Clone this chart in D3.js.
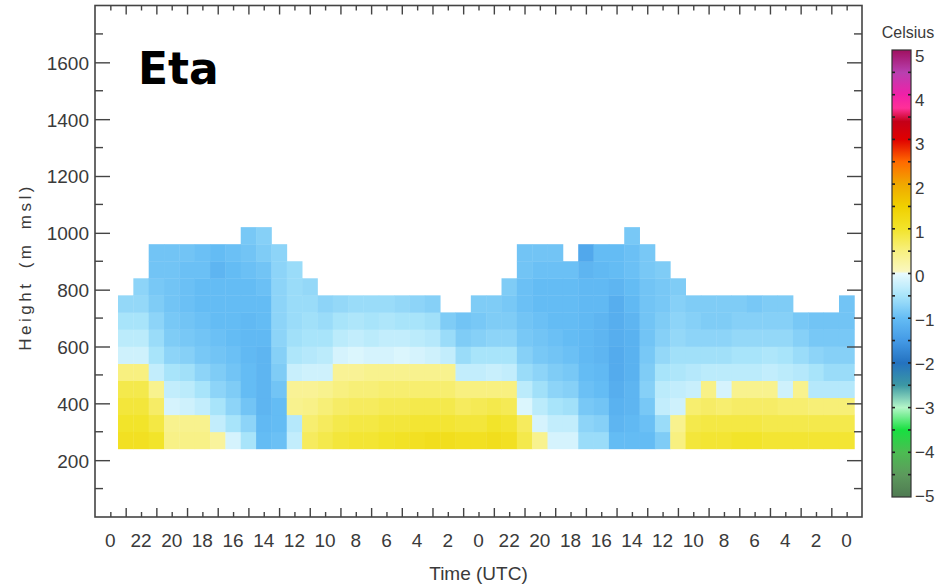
<!DOCTYPE html>
<html>
<head>
<meta charset="utf-8">
<script src="https://cdn.jsdelivr.net/npm/d3@7"></script>
<style>
  html, body { margin: 0; padding: 0; background: #fff; }
  svg { display: block; }
  text { font-family: "Liberation Sans", Arial, sans-serif; fill: #3a3a3a; }
</style>
</head>
<body>
<svg id="chart" width="939" height="588"></svg>
<script>
// ---------------- data ----------------
const title = "Eta";
const xTitle = "Time (UTC)";
const yTitle = "Height (m msl)";
const cbTitle = "Celsius";

// x tick labels at hours 0,2,...,48 (time runs backwards)
const timeTickLabels = ["0","22","20","18","16","14","12","10","8","6","4","2",
                        "0","22","20","18","16","14","12","10","8","6","4","2","0"];
const heightTicks = [200, 400, 600, 800, 1000, 1200, 1400, 1600];
const colorbarTicks = [5, 4, 3, 2, 1, 0, -1, -2, -3, -4, -5];

// grid: each column is one hour (centered on hours 1..48), rows are 60 m thick from 240 m
const rowBase = 240;
const rowStep = 60;
// temperatures (°C) per column, listed from the lowest row upward
const columnTemps = [
  [1.1, 1.0, 0.9, 0.8, 0.5, -0.2, -0.35, -0.5, -0.65],
  [1.1, 1.0, 0.9, 0.8, 0.5, -0.2, -0.35, -0.5, -0.65, -0.7],
  [1.0, 0.85, 0.65, 0.4, -0.3, -0.5, -0.6, -0.7, -0.8, -0.85, -0.9, -0.9],
  [0.45, 0.4, -0.15, -0.3, -0.5, -0.7, -0.8, -0.85, -0.9, -0.9, -0.9, -0.9],
  [0.45, 0.4, -0.2, -0.35, -0.55, -0.75, -0.85, -0.9, -0.95, -0.95, -0.95, -0.9],
  [0.45, 0.4, -0.3, -0.5, -0.7, -0.85, -0.9, -0.95, -1.0, -1.0, -0.95, -0.95],
  [0.3, -0.3, -0.5, -0.7, -0.8, -0.9, -0.95, -1.0, -1.0, -1.0, -1.1, -1.0],
  [-0.15, -0.5, -0.7, -0.8, -0.9, -0.95, -1.0, -1.0, -1.0, -1.0, -1.0, -0.95],
  [-0.5, -0.7, -0.9, -1.0, -1.0, -1.05, -1.05, -1.05, -1.0, -1.0, -0.95, -0.9, -0.85],
  [-1.0, -1.05, -1.1, -1.1, -1.1, -1.1, -1.05, -1.0, -1.0, -0.95, -0.9, -0.8, -0.75],
  [-0.95, -1.0, -1.0, -0.9, -0.8, -0.75, -0.7, -0.7, -0.7, -0.7, -0.7, -0.7],
  [-0.3, -0.4, 0.4, 0.35, -0.25, -0.45, -0.55, -0.6, -0.6, -0.6, -0.6],
  [0.7, 0.6, 0.45, 0.35, -0.2, -0.4, -0.5, -0.55, -0.6, -0.65],
  [0.8, 0.7, 0.55, 0.4, -0.2, -0.35, -0.5, -0.6, -0.7],
  [0.9, 0.8, 0.65, 0.5, 0.35, -0.15, -0.35, -0.5, -0.65],
  [0.95, 0.85, 0.7, 0.55, 0.35, -0.1, -0.3, -0.45, -0.6],
  [0.95, 0.85, 0.7, 0.55, 0.4, -0.15, -0.35, -0.5, -0.6],
  [1.0, 0.9, 0.75, 0.6, 0.4, -0.15, -0.3, -0.45, -0.6],
  [1.05, 0.9, 0.75, 0.6, 0.4, -0.1, -0.3, -0.5, -0.65],
  [1.1, 0.95, 0.8, 0.6, 0.4, -0.15, -0.35, -0.5, -0.7],
  [1.15, 0.95, 0.8, 0.6, 0.4, -0.2, -0.4, -0.55, -0.75],
  [1.15, 0.95, 0.8, 0.6, 0.4, -0.3, -0.6, -0.8],
  [1.1, 0.9, 0.7, 0.5, -0.3, -0.6, -0.8, -0.9],
  [1.1, 0.9, 0.75, 0.5, -0.3, -0.5, -0.75, -0.85, -0.8],
  [1.15, 1.0, 0.8, 0.5, -0.25, -0.5, -0.7, -0.8, -0.8],
  [1.1, 0.95, 0.75, 0.5, -0.3, -0.5, -0.7, -0.8, -0.85, -0.8],
  [0.8, 0.7, -0.1, -0.35, -0.6, -0.75, -0.85, -0.9, -0.95, -0.95, -0.9, -0.9],
  [0.4, -0.15, -0.35, -0.55, -0.7, -0.85, -0.9, -0.95, -1.0, -1.0, -0.95, -0.9],
  [-0.15, -0.3, -0.5, -0.7, -0.8, -0.9, -0.95, -1.0, -1.0, -1.0, -0.95, -0.9],
  [-0.15, -0.3, -0.55, -0.75, -0.85, -0.95, -1.0, -1.0, -1.0, -1.0, -0.95],
  [-0.6, -0.7, -0.85, -0.95, -1.0, -1.05, -1.05, -1.05, -1.05, -1.05, -1.1, -1.3],
  [-0.6, -0.75, -0.9, -1.0, -1.05, -1.1, -1.1, -1.1, -1.05, -1.05, -1.05, -1.0],
  [-1.0, -1.1, -1.15, -1.2, -1.25, -1.25, -1.2, -1.2, -1.2, -1.1, -1.0, -1.0],
  [-1.0, -1.05, -1.1, -1.1, -1.15, -1.15, -1.15, -1.1, -1.05, -1.0, -0.95, -0.95, -0.85],
  [-1.0, -0.95, -0.85, -0.75, -0.8, -0.85, -0.9, -0.9, -0.9, -0.9, -0.85, -0.85],
  [-0.8, -0.6, -0.3, -0.35, -0.5, -0.65, -0.75, -0.8, -0.85, -0.85, -0.8],
  [0.5, 0.4, -0.2, -0.3, -0.45, -0.55, -0.65, -0.7, -0.75, -0.8],
  [0.9, 0.8, 0.6, -0.25, -0.4, -0.55, -0.7, -0.75, -0.8],
  [0.95, 0.85, 0.65, 0.45, -0.35, -0.55, -0.7, -0.8, -0.8],
  [0.95, 0.85, 0.6, -0.15, -0.35, -0.55, -0.7, -0.8, -0.8],
  [1.0, 0.85, 0.65, 0.4, -0.35, -0.5, -0.65, -0.75, -0.8],
  [1.0, 0.85, 0.65, 0.4, -0.35, -0.5, -0.65, -0.75, -0.85],
  [0.95, 0.8, 0.65, 0.4, -0.3, -0.45, -0.65, -0.75, -0.8],
  [0.95, 0.8, 0.6, -0.2, -0.35, -0.5, -0.65, -0.75, -0.8],
  [0.95, 0.8, 0.6, 0.4, -0.4, -0.6, -0.75, -0.85],
  [0.95, 0.8, 0.55, -0.4, -0.5, -0.7, -0.85, -0.9],
  [0.95, 0.8, 0.55, -0.4, -0.6, -0.75, -0.85, -0.9],
  [0.95, 0.8, 0.55, -0.4, -0.6, -0.75, -0.85, -0.9, -0.9]
];

// colour table (value -> colour)
const cmapValues = [-5, -4.5, -4, -3.5, -3, -2.5, -2, -1.5, -1, -0.5, 0, 0.001, 0.5, 1, 1.5, 2, 2.5, 3, 3.4, 3.7, 4, 4.5, 5];
const cmapColors = ["#4f7a52","#5c9a5c","#4cbc52","#18e040","#b4f6c8","#3c98a4","#2472c0","#449ae6",
                    "#64bcf4","#a8e4fa","#e8fafe","#faf8c6","#f8f080","#f2e42a","#f0d000","#f0a800",
                    "#ff6a00","#e00000","#c40018","#ff3098","#f020a8","#b840b0","#a01060"];

// ---------------- drawing ----------------
const svg = d3.select("#chart");
const plot = { left: 95, right: 862, top: 5.5, bottom: 517 };

const x = d3.scaleLinear().domain([-1, 49]).range([plot.left, plot.right]);
const y = d3.scaleLinear().domain([0, 1800]).range([plot.bottom, plot.top]);
const color = d3.scaleLinear().domain(cmapValues).range(cmapColors)
  .interpolate(d3.interpolateRgb).clamp(true);

// cells
const cells = [];
columnTemps.forEach((col, i) => {
  col.forEach((v, j) => {
    cells.push({ hour: i + 1, h0: rowBase + j * rowStep, h1: rowBase + (j + 1) * rowStep, v });
  });
});
svg.append("g").selectAll("rect").data(cells).join("rect")
  .attr("x", d => x(d.hour - 0.5))
  .attr("width", d => x(d.hour + 0.5) - x(d.hour - 0.5) + 0.4)
  .attr("y", d => y(d.h1))
  .attr("height", d => y(d.h0) - y(d.h1) + 0.4)
  .attr("fill", d => color(d.v));

// axes
const hours = d3.range(0, 49);
const minorH = d3.range(100, 1800, 200);
const axisColor = "#444";

function styleAxis(g) {
  g.select(".domain").remove();
  g.selectAll(".tick line").attr("stroke", axisColor).attr("stroke-width", 1.4);
  g.selectAll(".tick text").style("font-size", "19px").attr("fill", "#3a3a3a");
}

// bottom
const gB = svg.append("g").attr("transform", `translate(0,${plot.bottom})`)
  .call(d3.axisBottom(x).tickValues(hours).tickSize(0).tickFormat(""));
styleAxis(gB);
gB.selectAll(".tick line").attr("y2", d => (d % 2 ? -9 : -5));
svg.append("g").selectAll("text").data(timeTickLabels).join("text")
  .attr("x", (d, i) => x(i * 2))
  .attr("y", plot.bottom + 30)
  .attr("text-anchor", "middle")
  .style("font-size", "19px")
  .text(d => d);

// top
const gT = svg.append("g").attr("transform", `translate(0,${plot.top})`)
  .call(d3.axisTop(x).tickValues(hours).tickSize(0).tickFormat(""));
styleAxis(gT);
gT.selectAll(".tick line").attr("y2", d => (d % 2 ? 9 : 5));

// left
const gL = svg.append("g").attr("transform", `translate(${plot.left},0)`)
  .call(d3.axisLeft(y).tickValues(heightTicks).tickSize(0).tickPadding(6).tickFormat(d3.format("d")));
styleAxis(gL);
gL.selectAll(".tick line").attr("x2", 15);
gL.selectAll(".tick text").attr("dy", "0.36em");
svg.append("g").selectAll("line").data(minorH).join("line")
  .attr("x1", plot.left).attr("x2", plot.left + 8)
  .attr("y1", d => y(d)).attr("y2", d => y(d))
  .attr("stroke", axisColor).attr("stroke-width", 1.4);

// right
const gR = svg.append("g").attr("transform", `translate(${plot.right},0)`)
  .call(d3.axisRight(y).tickValues(heightTicks).tickSize(0).tickFormat(""));
styleAxis(gR);
gR.selectAll(".tick line").attr("x2", -15);
svg.append("g").selectAll("line").data(minorH).join("line")
  .attr("x1", plot.right).attr("x2", plot.right - 8)
  .attr("y1", d => y(d)).attr("y2", d => y(d))
  .attr("stroke", axisColor).attr("stroke-width", 1.4);

// frame
svg.append("rect")
  .attr("x", plot.left).attr("y", plot.top)
  .attr("width", plot.right - plot.left).attr("height", plot.bottom - plot.top)
  .attr("fill", "none").attr("stroke", axisColor).attr("stroke-width", 1.6);

// axis titles
svg.append("text")
  .attr("x", (x(0) + x(48)) / 2).attr("y", 580)
  .attr("text-anchor", "middle").style("font-size", "19px")
  .text(xTitle);
svg.append("text")
  .attr("transform", `translate(31,${y(880)}) rotate(-90)`)
  .attr("text-anchor", "middle")
  .style("font-size", "17px").style("letter-spacing", "3.5px")
  .style("word-spacing", "4px")
  .text(yTitle);

// panel title
svg.append("text")
  .attr("x", 138).attr("y", 84)
  .style("font-family", "'Comic Sans MS', 'DejaVu Sans', sans-serif")
  .style("font-weight", "bold").style("font-size", "44px")
  .attr("fill", "#000").style("fill", "#000")
  .text(title);

// colour bar
const cb = { x: 892, w: 19, top: 50, bottom: 497 };
const cbScale = d3.scaleLinear().domain([5, -5]).range([cb.top, cb.bottom]);
const cbLabelScale = d3.scaleLinear().domain([5, -5]).range([56, 496]);
const defs = svg.append("defs");
const grad = defs.append("linearGradient").attr("id", "cbgrad")
  .attr("x1", 0).attr("y1", 0).attr("x2", 0).attr("y2", 1);
d3.range(0, 201).forEach(k => {
  const v = 5 - k * 0.05;
  grad.append("stop").attr("offset", (k / 200)).attr("stop-color", color(v));
});
svg.append("rect")
  .attr("x", cb.x).attr("y", cb.top).attr("width", cb.w).attr("height", cb.bottom - cb.top)
  .attr("fill", "url(#cbgrad)").attr("stroke", "#333").attr("stroke-width", 1.2);
const cbMinor = d3.range(-4.5, 5, 0.5);
svg.append("g").selectAll("line").data(cbMinor.flatMap(v => [[v, 0], [v, 1]])).join("line")
  .attr("x1", d => d[1] ? cb.x + cb.w : cb.x)
  .attr("x2", d => d[1] ? cb.x + cb.w - 3 : cb.x + 3)
  .attr("y1", d => cbScale(d[0])).attr("y2", d => cbScale(d[0]))
  .attr("stroke", "#222").attr("stroke-width", 1.6);
svg.append("g").selectAll("text").data(colorbarTicks).join("text")
  .attr("x", cb.x + cb.w + 4)
  .attr("y", d => cbLabelScale(d))
  .attr("dy", "0.36em")
  .style("font-size", "17px")
  .text(d => d < 0 ? "\u2212" + Math.abs(d) : String(d));
svg.append("text")
  .attr("x", 908).attr("y", 38).attr("text-anchor", "middle")
  .style("font-size", "16px")
  .text(cbTitle);
</script>
</body>
</html>
